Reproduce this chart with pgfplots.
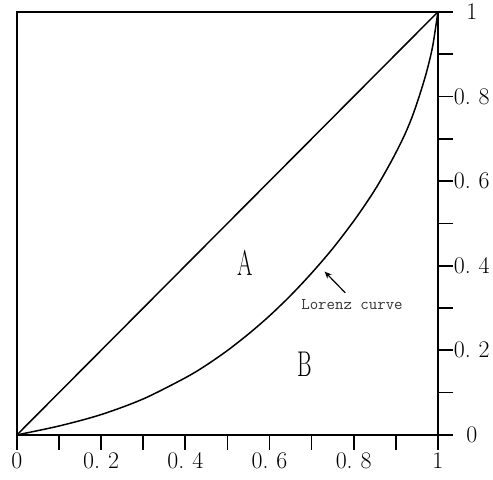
\documentclass[border=0pt]{standalone}
\usepackage{graphicx}
\usepackage{pgfplots}
\pgfplotsset{compat=1.18}
\usetikzlibrary{arrows.meta}
\begin{document}
\begin{tikzpicture}
\begin{axis}[
  width=422bp, height=424bp, scale only axis,
  xmin=0, xmax=1, ymin=0, ymax=1,
  axis line style={line width=1.4bp},
  xtick={0,0.2,0.4,0.6,0.8,1},
  ytick={0,0.2,0.4,0.6,0.8,1},
  xticklabels={0,{0.\,\,2},{0.\,\,4},{0.\,\,6},{0.\,\,8},1},
  yticklabels={0,{0.\,\,2},{0.\,\,4},{0.\,\,6},{0.\,\,8},1},
  minor tick num=1,
  xtick pos=bottom, ytick pos=right,
  yticklabel pos=right,
  tick align=outside,
  major tick length=15bp, minor tick length=15bp,
  every tick/.style={black, line width=1.8bp},
  tick label style={font=\fontsize{24}{24}\selectfont},
  xticklabel style={yshift=1bp},
  yticklabel style={anchor=center, xshift=19bp},
  clip=false,
]
\addplot[black, line width=1.5bp] coordinates {(0,0) (1,1)};
\addplot[black, line width=1.5bp, smooth] coordinates {
(0,0) (0.1,0.021) (0.2,0.048) (0.3,0.085) (0.4,0.135) (0.45,0.165) (0.5,0.1995)
(0.55,0.2385) (0.6,0.2815) (0.65,0.3295) (0.7,0.3825) (0.75,0.4405) (0.8,0.5055)
(0.836,0.5573) (0.86,0.5952) (0.89,0.648) (0.919,0.705) (0.94,0.755) (0.96,0.814)
(0.975,0.865) (0.988,0.921) (1,1)};
\draw[black, line width=1.4bp] (axis cs:1,0) -- (axis cs:1.033,0);
\draw[-{Stealth[length=7bp,width=6bp]}, line width=1.2bp] (axis cs:0.78,0.336) -- (axis cs:0.731,0.386);
\node[text=black!80] at (axis cs:0.796,0.308) {\ttfamily\fontsize{16.5}{16.5}\selectfont Lorenz\ curve};
\node at (axis cs:0.543,0.406) {\scalebox{0.62}[1]{\fontsize{36}{36}\selectfont A}};
\node at (axis cs:0.684,0.167) {\scalebox{0.62}[1]{\fontsize{36}{36}\selectfont B}};
\end{axis}
\path[use as bounding box] ([xshift=-17bp,yshift=-45bp]current axis.south west) rectangle ([xshift=54bp,yshift=12bp]current axis.north east);
\end{tikzpicture}
\end{document}
